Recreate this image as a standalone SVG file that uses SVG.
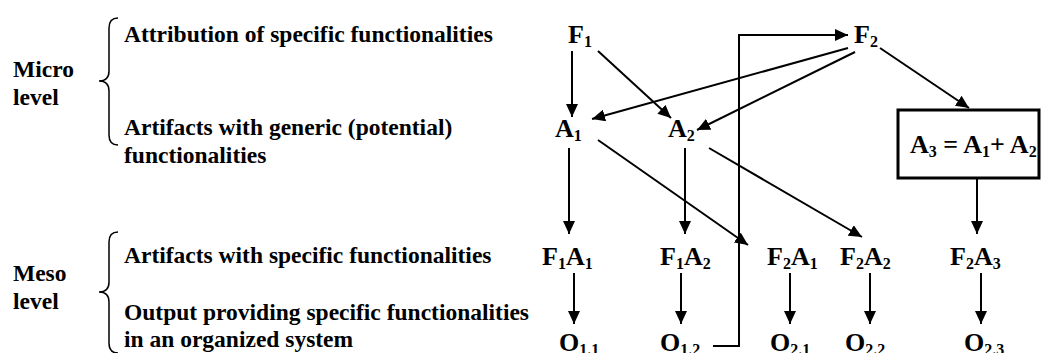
<svg xmlns="http://www.w3.org/2000/svg" width="1042" height="353" viewBox="0 0 1042 353">
<style>
text{font-family:"Liberation Serif","Times New Roman",serif;font-weight:bold;fill:#000}
.lab{font-size:23.5px}
.nd{font-size:26px}
.s{font-size:16px}
.ln{stroke:#000;stroke-width:2;fill:none}
.br{stroke:#000;stroke-width:1.5;fill:none}
</style>
<defs>
<marker id="ah" markerUnits="userSpaceOnUse" markerWidth="14" markerHeight="12" refX="13" refY="6" orient="auto">
<path d="M0,0 L13,6 L0,12 z" fill="#000"/>
</marker>
</defs>
<g id="labels">
<text class="lab" x="13" y="77">Micro</text>
<text class="lab" x="13" y="105">level</text>
<path class="br" d="M118,18 Q109,18 109,28 L109,71 Q109,81 99,81 Q109,81 109,91 L109,135 Q109,145 118,145"/>
<text class="lab" x="124" y="42">Attribution of specific functionalities</text>
<text class="lab" x="124" y="135">Artifacts with generic (potential)</text>
<text class="lab" x="124" y="163">functionalities</text>
<text class="lab" x="13" y="281">Meso</text>
<text class="lab" x="13" y="309">level</text>
<path class="br" d="M118,232 Q109,232 109,242 L109,282 Q109,292 99,292 Q109,292 109,302 L109,343 Q109,353 118,353"/>
<text class="lab" x="124" y="263">Artifacts with specific functionalities</text>
<text class="lab" x="124" y="320">Output providing specific functionalities</text>
<text class="lab" x="124" y="347">in an organized system</text>
</g>
<g id="F1"><text class="nd" x="568" y="43">F<tspan class="s" dy="4">1</tspan></text></g>
<g id="F2"><text class="nd" x="854" y="43">F<tspan class="s" dy="4">2</tspan></text></g>
<g id="A1"><text class="nd" x="555" y="137">A<tspan class="s" dy="4">1</tspan></text></g>
<g id="A2"><text class="nd" x="668" y="137">A<tspan class="s" dy="4">2</tspan></text></g>
<g id="A3">
<rect x="898" y="110" width="141" height="68" fill="none" stroke="#000" stroke-width="3"/>
<text class="nd" x="910" y="153">A<tspan class="s" dy="4">3</tspan><tspan dy="-4"> = A</tspan><tspan class="s" dy="4">1</tspan><tspan dy="-4">+ A</tspan><tspan class="s" dy="4">2</tspan></text>
</g>
<g id="F1A1"><text class="nd" x="542" y="265">F<tspan class="s" dy="4">1</tspan><tspan dy="-4">A</tspan><tspan class="s" dy="4">1</tspan></text></g>
<g id="F1A2"><text class="nd" x="660" y="265">F<tspan class="s" dy="4">1</tspan><tspan dy="-4">A</tspan><tspan class="s" dy="4">2</tspan></text></g>
<g id="F2A1"><text class="nd" x="767" y="265">F<tspan class="s" dy="4">2</tspan><tspan dy="-4">A</tspan><tspan class="s" dy="4">1</tspan></text></g>
<g id="F2A2"><text class="nd" x="840" y="265">F<tspan class="s" dy="4">2</tspan><tspan dy="-4">A</tspan><tspan class="s" dy="4">2</tspan></text></g>
<g id="F2A3"><text class="nd" x="950" y="265">F<tspan class="s" dy="4">2</tspan><tspan dy="-4">A</tspan><tspan class="s" dy="4">3</tspan></text></g>
<g id="O11"><text class="nd" x="559" y="351">O<tspan class="s" dy="4">1.1</tspan></text></g>
<g id="O12"><text class="nd" x="660" y="351">O<tspan class="s" dy="4">1.2</tspan></text></g>
<g id="O21"><text class="nd" x="770" y="351">O<tspan class="s" dy="4">2.1</tspan></text></g>
<g id="O22"><text class="nd" x="845" y="351">O<tspan class="s" dy="4">2.2</tspan></text></g>
<g id="O23"><text class="nd" x="964" y="351">O<tspan class="s" dy="4">2.3</tspan></text></g>
<g id="connectors">
<line class="ln" x1="572" y1="51" x2="572" y2="117" marker-end="url(#ah)"/>
<line class="ln" x1="598" y1="51" x2="671" y2="118" marker-end="url(#ah)"/>
<line class="ln" x1="848" y1="48" x2="592" y2="119" marker-end="url(#ah)"/>
<line class="ln" x1="855" y1="52" x2="697" y2="130" marker-end="url(#ah)"/>
<line class="ln" x1="880" y1="48" x2="969" y2="108" marker-end="url(#ah)"/>
<line class="ln" x1="569" y1="148" x2="569" y2="234" marker-end="url(#ah)"/>
<line class="ln" x1="685" y1="148" x2="685" y2="234" marker-end="url(#ah)"/>
<line class="ln" x1="598" y1="140" x2="748" y2="245" marker-end="url(#ah)"/>
<line class="ln" x1="709" y1="148" x2="862" y2="237" marker-end="url(#ah)"/>
<line class="ln" x1="977" y1="178" x2="977" y2="234" marker-end="url(#ah)"/>
<line class="ln" x1="574" y1="273" x2="574" y2="324" marker-end="url(#ah)"/>
<line class="ln" x1="681" y1="273" x2="681" y2="324" marker-end="url(#ah)"/>
<line class="ln" x1="790" y1="273" x2="790" y2="324" marker-end="url(#ah)"/>
<line class="ln" x1="870" y1="273" x2="870" y2="324" marker-end="url(#ah)"/>
<line class="ln" x1="981" y1="273" x2="981" y2="324" marker-end="url(#ah)"/>
<polyline class="ln" points="713,346 739,346 739,35 848,35" marker-end="url(#ah)"/>
</g>
</svg>
